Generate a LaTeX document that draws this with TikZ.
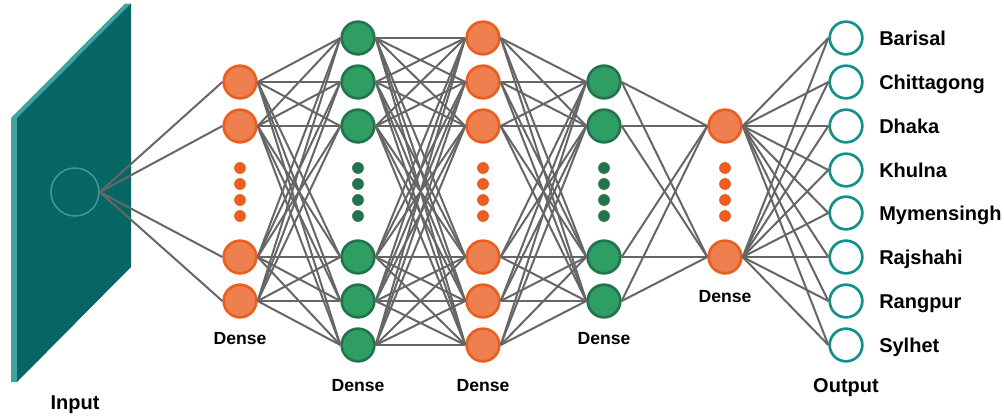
\documentclass[tikz,border=0pt]{standalone}
\usepackage{fontspec}
\setmainfont{Liberation Sans}
\definecolor{orfill}{HTML}{EE7F4E}
\definecolor{ordraw}{HTML}{EA5F1F}
\definecolor{grfill}{HTML}{2F9E63}
\definecolor{grdraw}{HTML}{23734F}
\definecolor{outc}{HTML}{13908A}
\definecolor{panel}{HTML}{056664}
\definecolor{strip}{HTML}{40A3A1}
\definecolor{wire}{HTML}{666666}
\tikzset{
  x=0.75pt,y=-0.75pt,
  orangenode/.style={circle,draw=ordraw,fill=orfill,line width=2pt,minimum size=24.5pt,inner sep=0pt},
  greennode/.style={circle,draw=grdraw,fill=grfill,line width=2pt,minimum size=24.5pt,inner sep=0pt},
  outnode/.style={circle,draw=outc,fill=white,line width=2pt,minimum size=24.5pt,inner sep=0pt},
  innode/.style={circle,draw=strip!85!panel,line width=1.2pt,minimum size=36pt,inner sep=0pt},
  orangedot/.style={circle,fill=ordraw,minimum size=8.8pt,inner sep=0pt},
  greendot/.style={circle,fill=grdraw,minimum size=8.8pt,inner sep=0pt},
  wireline/.style={draw=wire,line width=1.5pt},
  denselabel/.style={font=\fontsize{13.2}{15}\selectfont\bfseries,text=black,anchor=base},
  biglabel/.style={font=\fontsize{15}{18}\selectfont\bfseries,text=black,anchor=base},
  classlabel/.style={font=\fontsize{15}{18}\selectfont\bfseries,text=black,anchor=base west,inner sep=0pt},
}
\begin{document}
\begin{tikzpicture}
\useasboundingbox (0,0) rectangle (1004,419);
% input panel
\fill[strip] (11,118) -- (125,3.5) -- (131,3.5) -- (17,118) -- (17,382) -- (11,382) -- cycle;
\fill[panel] (17,118) -- (131,3.5) -- (131,267) -- (17,382) -- cycle;
\node[innode] (in) at (75,192) {};
% layers
\foreach \y [count=\i] in {82,126,257,301} \node[orangenode] (a\i) at (240,\y) {};
\foreach \y [count=\i] in {38,82,126,257,301,345} \node[greennode] (b\i) at (358,\y) {};
\foreach \y [count=\i] in {38,82,126,257,301,345} \node[orangenode] (c\i) at (483,\y) {};
\foreach \y [count=\i] in {82,126,257,301} \node[greennode] (d\i) at (604,\y) {};
\foreach \y [count=\i] in {126,257} \node[orangenode] (e\i) at (725,\y) {};
\foreach \y/\t [count=\i] in {38/Barisal,82/Chittagong,126/Dhaka,170/Khulna,213/Mymensingh,257/Rajshahi,301/Rangpur,345/Sylhet} {
  \node[outnode] (f\i) at (846,\y) {};
  \node[classlabel] (t\i) at (879,\y+7) {\t};
}
% connectors
\foreach \j in {1,...,4} \draw[wireline] (in.east) -- (a\j.west);
\foreach \i in {1,...,4} \foreach \j in {1,...,6} \draw[wireline] (a\i.east) -- (b\j.west);
\foreach \i in {1,...,6} \foreach \j in {1,...,6} \draw[wireline] (b\i.east) -- (c\j.west);
\foreach \i in {1,...,6} \foreach \j in {1,...,4} \draw[wireline] (c\i.east) -- (d\j.west);
\foreach \i in {1,...,4} \foreach \j in {1,2} \draw[wireline] (d\i.east) -- (e\j.west);
\foreach \i in {1,2} \foreach \j in {1,...,8} \draw[wireline] (e\i.east) -- (f\j.west);
% dots
\foreach \y [count=\i] in {168,184,200,216} {
  \node[orangedot] (da\i) at (240,\y) {};
  \node[greendot] (db\i) at (358,\y) {};
  \node[orangedot] (dc\i) at (483,\y) {};
  \node[greendot] (dd\i) at (604,\y) {};
  \node[orangedot] (de\i) at (725,\y) {};
}
% labels
\node[denselabel] (la) at (240,344) {Dense};
\node[denselabel] (lb) at (358,391) {Dense};
\node[denselabel] (lc) at (483,391) {Dense};
\node[denselabel] (ld) at (604,344) {Dense};
\node[denselabel] (le) at (725,302) {Dense};
\node[biglabel] (li) at (75,409) {Input};
\node[biglabel] (lo) at (846,392) {Output};
\end{tikzpicture}
\end{document}
